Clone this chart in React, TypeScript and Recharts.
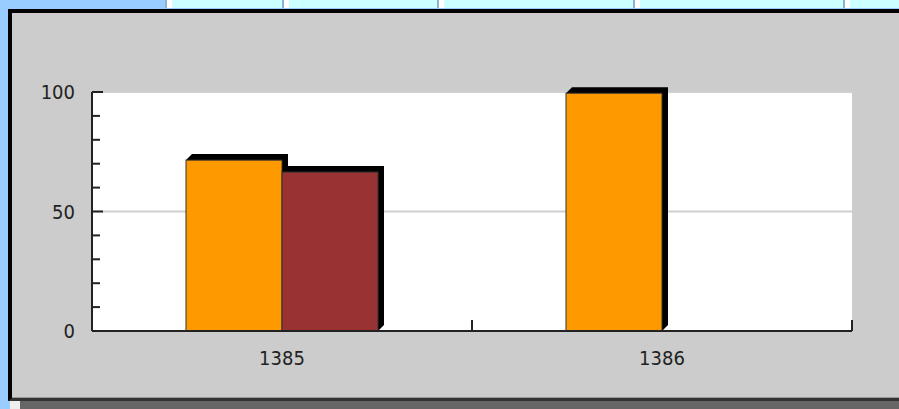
import { BarChart, Bar, XAxis, YAxis, CartesianGrid } from 'recharts';

const categories = ['1385', '1386'];
const seriesA = [71.5, 99.5];
const seriesB = [66.5, 0];
const yTicks = [0, 10, 20, 30, 40, 50, 60, 70, 80, 90, 100];
const yLabelled = [0, 50, 100];
const gridValues = [50, 100];

const data = categories.map((name, i) => ({ name, a: seriesA[i], b: seriesB[i] }));

const W = 899;
const H = 409;
const margin = { top: 92, right: 47, left: 32, bottom: 38 };
const Y_W = 60;
const X_H = 40;
const band = (W - margin.left - Y_W - margin.right) / categories.length;

const FONT = "'DejaVu Sans Condensed', 'DejaVu Sans', sans-serif";
const INK = '#222';

// little marks on the strip above the panel
const stripMarks = [168, 285, 440, 636, 846];

const Bar3D = (props: any) => {
  const { x, y, width, height, fill } = props;
  if (!height || height <= 0) return null;
  const d = 6;
  const pts = `${x},${y} ${x + d},${y - d} ${x + width + d},${y - d} ${x + width + d},${y + height - d} ${x + width},${y + height}`;
  return (
    <g>
      <polygon points={pts} fill="#000" />
      <rect x={x} y={y} width={width} height={height} fill={fill} stroke="#333" strokeWidth={1} />
    </g>
  );
};

const YTick = (props: any) => {
  const { x, y, payload } = props;
  const major = yLabelled.includes(payload.value);
  return (
    <g>
      <line x1={x} x2={x + (major ? 11 : 8)} y1={y} y2={y} stroke={INK} strokeWidth={2} />
      {major && (
        <text x={x - 17} y={y} dy="0.36em" textAnchor="end" fill={INK} fontFamily={FONT} fontSize={20}>
          {payload.value}
        </text>
      )}
    </g>
  );
};

const XTick = (props: any) => {
  const { x, y, payload, index } = props;
  return (
    <g>
      {index === 0 && <line x1={x - band / 2} x2={x - band / 2} y1={y - 11} y2={y} stroke={INK} strokeWidth={2} />}
      <line x1={x + band / 2} x2={x + band / 2} y1={y - 11} y2={y} stroke={INK} strokeWidth={2} />
      <text x={x} y={y + 34} textAnchor="middle" fill={INK} fontFamily={FONT} fontSize={20}>
        {payload.value}
      </text>
    </g>
  );
};

export default function App() {
  return (
    <div style={{ position: 'relative', width: W, height: H, background: '#99ccff', overflow: 'hidden' }}>
      <style>{'body{margin:0}'}</style>
      <div style={{ position: 'absolute', left: 165, top: 0, width: W - 165, height: 8, background: '#ccffff' }} />
      {stripMarks.map((m) => (
        <div key={m} style={{ position: 'absolute', left: m - 3, top: 0, width: 8, height: 8 }}>
          <div style={{ position: 'absolute', left: 0, top: 0, width: 2, height: 8, background: '#8fb0d8' }} />
          <div style={{ position: 'absolute', left: 2, top: 0, width: 5, height: 8, background: '#ffffff' }} />
        </div>
      ))}
      <div
        style={{
          position: 'absolute',
          left: 8,
          top: 9,
          width: W,
          height: 392,
          boxSizing: 'border-box',
          background: '#cccccc',
          borderTop: '4px solid #000',
          borderLeft: '4px solid #000',
          borderBottom: '3px solid #333',
        }}
      >
        <div style={{ position: 'absolute', left: 0, right: 0, bottom: 0, height: 1, background: '#999' }} />
      </div>
      <div style={{ position: 'absolute', left: 10, top: 401, width: 10, height: 8, background: '#eeeeee' }} />
      <div style={{ position: 'absolute', left: 20, top: 401, width: W - 20, height: 8, background: '#666666' }} />
      <div style={{ position: 'absolute', left: 0, top: 0 }}>
        <BarChart width={W} height={H} data={data} margin={margin} barGap={0}>
          <CartesianGrid
            fill="#ffffff"
            stroke="#d0d0d0"
            strokeWidth={2}
            vertical={false}
            horizontalValues={gridValues}
          />
          <XAxis
            dataKey="name"
            height={X_H}
            interval={0}
            axisLine={{ stroke: INK, strokeWidth: 2 }}
            tickLine={false}
            tickSize={0}
            tickMargin={0}
            tick={<XTick />}
          />
          <YAxis
            type="number"
            domain={[0, 100]}
            ticks={yTicks}
            interval={0}
            width={Y_W}
            axisLine={{ stroke: INK, strokeWidth: 2 }}
            tickLine={false}
            tickSize={0}
            tickMargin={0}
            tick={<YTick />}
          />
          <Bar dataKey="a" fill="#ff9900" barSize={96} shape={<Bar3D />} isAnimationActive={false} />
          <Bar dataKey="b" fill="#993333" barSize={96} shape={<Bar3D />} isAnimationActive={false} />
        </BarChart>
      </div>
    </div>
  );
}
